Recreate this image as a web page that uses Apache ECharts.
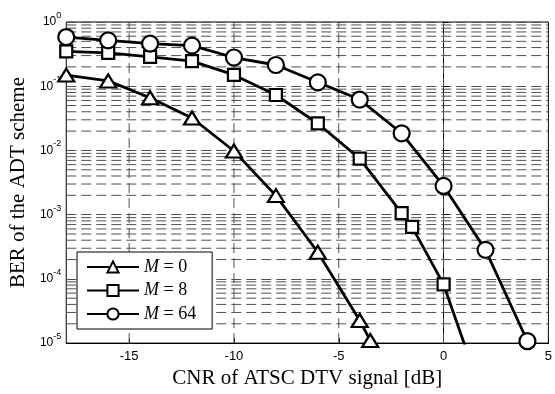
<!DOCTYPE html>
<html>
<head>
<meta charset="utf-8">
<script src="https://cdn.jsdelivr.net/npm/echarts@6/dist/echarts.min.js"></script>
<style>
  html, body { margin: 0; padding: 0; background: #fff; }
  #chart { width: 555px; height: 394px; }
</style>
</head>
<body>
<div id="chart"></div>
<script>
// CNR values (dB) and BER
const cnrM0 = [-18, -16, -14, -12, -10, -8, -6, -4, -3.5]
const berM0 = [0.149, 0.121, 0.066, 0.032, 0.0098, 0.00198, 2.6e-4, 2.25e-5, 1.1e-5]

const cnrM8 = [-18, -16, -14, -12, -10, -8, -6, -4, -2, -1.5, 0, 2]
const berM8 = [0.35, 0.331, 0.287, 0.246, 0.15, 0.073, 0.0263, 0.00746, 1.06e-3, 6.45e-4, 8.2e-5, 1.1e-6]

const cnrM64 = [-18, -16, -14, -12, -10, -8, -6, -4, -2, 0, 2, 4]
const berM64 = [0.583, 0.517, 0.46, 0.428, 0.28, 0.214, 0.115, 0.062, 0.0185, 2.8e-3, 2.83e-4, 1.07e-5]

const xTicks = [-15, -10, -5, 0, 5]
const xRange = [-18, 5]
const yRange = [1e-5, 1]
const legendNames = ['M0', 'M8', 'M64']
const legendLabels = { M0: '0', M8: '8', M64: '64' }

// log minor grid: 2..9 x 10^k
const minorGrid = []
for (let e = -5; e <= -1; e++) {
  for (let m = 2; m <= 9; m++) minorGrid.push(+(m * Math.pow(10, e)).toPrecision(3))
}

const gridLine = { color: '#505050', type: [10, 5], width: 1 }

function pairs(xs, ys) {
  return xs.map((x, i) => [x, ys[i]])
}

// dashed grid segments drawn as one broken line series
const gridSegs = []
minorGrid.forEach(v => {
  gridSegs.push([xRange[0], v], [xRange[1], v], '-')
})
xTicks.slice(0, -1).forEach(x => {
  gridSegs.push([x, yRange[0]], [x, yRange[1]], '-')
})

const serif = 'Liberation Serif'
const sans = 'Liberation Sans'

const baseSeries = {
  type: 'line',
  color: '#000',
  lineStyle: { color: '#000', width: 2.8 },
  itemStyle: { color: '#fff', borderColor: '#000', borderWidth: 2.2 },
  clip: true,
  z: 5
}

// M=8 last point is below the axis, line only
const m8Data = pairs(cnrM8, berM8).map((p, i) =>
  i === cnrM8.length - 1 ? { value: p, symbol: 'none' } : p)

const option = {
  animation: false,
  backgroundColor: '#fff',
  grid: {
    left: 62, right: 2, top: 22, bottom: 46,
    show: true, borderColor: '#000', borderWidth: 1
  },
  legend: {
    data: legendNames,
    orient: 'vertical',
    left: 77,
    top: 252,
    backgroundColor: '#fff',
    borderColor: '#000',
    borderWidth: 1,
    borderRadius: 0,
    padding: [6, 16, 6, 9],
    itemWidth: 52,
    itemHeight: 14,
    itemGap: 5.5,
    formatter: name => '{i|M} = ' + legendLabels[name],
    textStyle: {
      color: '#000', fontFamily: serif, fontSize: 18, lineHeight: 18,
      rich: { i: { fontStyle: 'italic', fontFamily: serif, fontSize: 18, color: '#000' } }
    }
  },
  xAxis: {
    type: 'value',
    min: xRange[0],
    max: xRange[1],
    name: 'CNR of ATSC DTV signal [dB]',
    nameLocation: 'middle',
    nameGap: 24,
    nameTextStyle: { color: '#000', fontFamily: serif, fontSize: 21, verticalAlign: 'top' },
    axisLine: { show: true, onZero: false, lineStyle: { color: '#000' } },
    axisTick: { show: true, inside: true, length: 5, customValues: xTicks, lineStyle: { color: '#000' } },
    axisLabel: { customValues: xTicks, color: '#000', fontFamily: sans, fontSize: 13, margin: 7 },
    splitLine: { show: false }
  },
  yAxis: {
    type: 'log',
    logBase: 10,
    min: yRange[0],
    max: yRange[1],
    name: 'BER of the ADT scheme',
    nameLocation: 'middle',
    nameGap: 37,
    nameTextStyle: { color: '#000', fontFamily: serif, fontSize: 21 },
    axisLine: { show: true, lineStyle: { color: '#000' } },
    axisTick: { show: true, inside: true, length: 5, lineStyle: { color: '#000' } },
    axisLabel: {
      color: '#000',
      margin: 5,
      formatter: v => '{b|10}{s|' + Math.round(Math.log10(v)) + '}',
      rich: {
        b: { fontFamily: sans, fontSize: 12, color: '#000', lineHeight: 22, verticalAlign: 'middle' },
        s: { fontFamily: sans, fontSize: 9, color: '#000', lineHeight: 12, verticalAlign: 'top' }
      }
    },
    splitLine: { show: true, lineStyle: gridLine }
  },
  series: [
    // grid lines that the axes can't draw themselves
    {
      type: 'line',
      data: gridSegs,
      silent: true,
      symbol: 'none',
      connectNulls: false,
      lineStyle: gridLine,
      z: 1
    },
    Object.assign({}, baseSeries, {
      name: 'M0',
      symbol: 'triangle',
      symbolSize: [16, 13],
      data: pairs(cnrM0, berM0)
    }),
    Object.assign({}, baseSeries, {
      name: 'M8',
      symbol: 'rect',
      symbolSize: 12,
      data: m8Data
    }),
    Object.assign({}, baseSeries, {
      name: 'M64',
      symbol: 'circle',
      symbolSize: 16,
      data: pairs(cnrM64, berM64)
    })
  ]
}

const chart = echarts.init(document.getElementById('chart'))
chart.setOption(option)
</script>
</body>
</html>
